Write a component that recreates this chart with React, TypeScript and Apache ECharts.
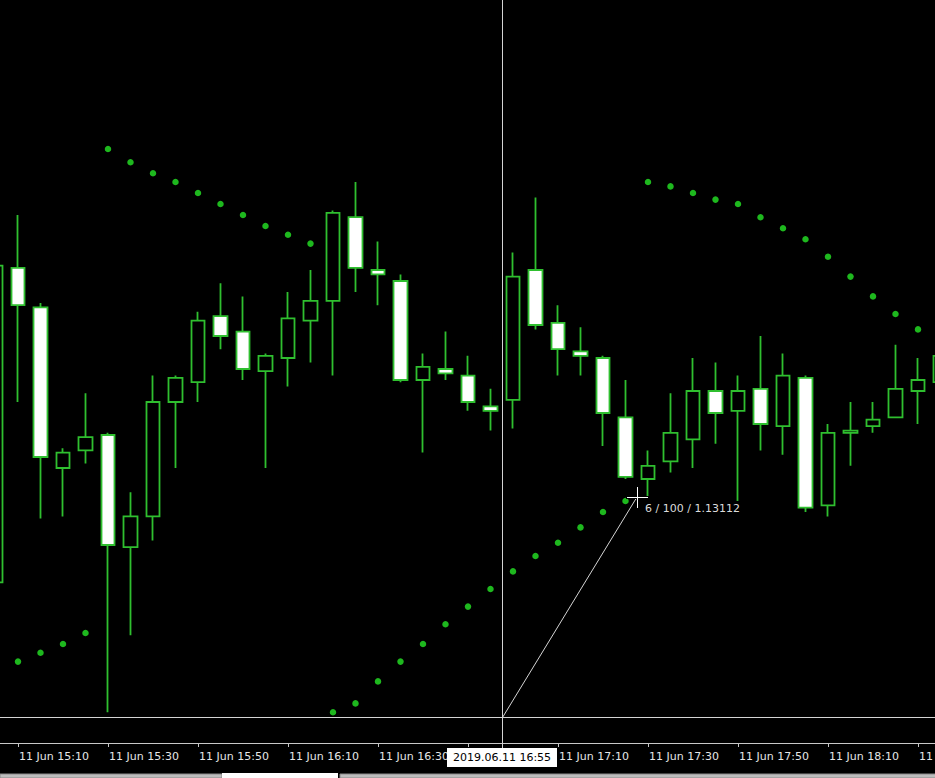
import React, { useEffect, useRef } from "react";
import * as echarts from "echarts";

// 5-minute bars, 11 Jun 2019
const times = [
  "14:50", "14:55", "15:00", "15:05", "15:10", "15:15", "15:20", "15:25", "15:30", "15:35",
  "15:40", "15:45", "15:50", "15:55", "16:00", "16:05", "16:10", "16:15", "16:20", "16:25",
  "16:30", "16:35", "16:40", "16:45", "16:50", "16:55", "17:00", "17:05", "17:10", "17:15",
  "17:20", "17:25", "17:30", "17:35", "17:40", "17:45", "17:50", "17:55", "18:00", "18:05",
  "18:10", "18:15", "18:20", "18:25", "18:30", "18:35",
];

// tick labels shown on the time axis (every 20 minutes)
const tickLabels = [
  "11 Jun 14:50", "11 Jun 15:10", "11 Jun 15:30", "11 Jun 15:50", "11 Jun 16:10", "11 Jun 16:30",
  "11 Jun 16:50", "11 Jun 17:10", "11 Jun 17:30", "11 Jun 17:50", "11 Jun 18:10", "11 Jun 18:30",
];

// first bar with data
const firstBarTime = "15:05";

// [open, close, low, high] from 15:05 to 18:35
const ohlc = [
  [1.13073, 1.13217, 1.1307, 1.1322],
  [1.13216, 1.13199, 1.13155, 1.1324],
  [1.13198, 1.1313, 1.13102, 1.132],
  [1.13125, 1.13132, 1.13103, 1.13134],
  [1.13133, 1.13139, 1.13127, 1.13159],
  [1.1314, 1.1309, 1.13014, 1.13141],
  [1.13089, 1.13103, 1.13049, 1.13114],
  [1.13103, 1.13155, 1.13092, 1.13167],
  [1.13155, 1.13166, 1.13125, 1.13167],
  [1.13164, 1.13192, 1.13155, 1.13196],
  [1.13194, 1.13185, 1.13179, 1.13209],
  [1.13187, 1.1317, 1.13165, 1.13203],
  [1.13169, 1.13176, 1.13125, 1.13177],
  [1.13175, 1.13193, 1.13162, 1.13205],
  [1.13192, 1.13201, 1.13173, 1.13215],
  [1.13201, 1.13241, 1.13167, 1.13242],
  [1.13239, 1.13216, 1.13205, 1.13255],
  [1.13215, 1.13213, 1.13199, 1.13228],
  [1.1321, 1.13165, 1.13164, 1.13213],
  [1.13165, 1.13171, 1.13132, 1.13177],
  [1.1317, 1.13168, 1.13165, 1.13187],
  [1.13167, 1.13155, 1.13151, 1.13176],
  [1.13153, 1.13151, 1.13142, 1.13161],
  [1.13156, 1.13212, 1.13143, 1.13223],
  [1.13215, 1.1319, 1.13188, 1.13248],
  [1.13191, 1.13179, 1.13167, 1.13199],
  [1.13178, 1.13176, 1.13167, 1.13189],
  [1.13175, 1.1315, 1.13135, 1.13176],
  [1.13148, 1.13121, 1.1312, 1.13165],
  [1.1312, 1.13126, 1.13112, 1.13133],
  [1.13128, 1.13141, 1.13123, 1.13159],
  [1.13138, 1.1316, 1.13125, 1.13175],
  [1.1316, 1.1315, 1.13136, 1.13173],
  [1.13151, 1.1316, 1.1311, 1.13167],
  [1.13161, 1.13145, 1.13133, 1.13185],
  [1.13144, 1.13167, 1.13131, 1.13177],
  [1.13166, 1.13107, 1.13105, 1.13167],
  [1.13108, 1.13141, 1.13103, 1.13145],
  [1.13141, 1.13142, 1.13126, 1.13155],
  [1.13144, 1.13147, 1.13141, 1.13155],
  [1.13148, 1.13161, 1.13148, 1.13181],
  [1.1316, 1.13165, 1.13145, 1.13175],
  [1.13164, 1.13176, 1.1316, 1.13181],
];

// Parabolic SAR from 15:05 to 18:35
const sar = [
  1.13033, 1.13037, 1.13041, 1.13045, 1.1305,
  1.1327, 1.13264, 1.13259, 1.13255, 1.1325, 1.13245, 1.1324, 1.13235, 1.13231, 1.13227,
  1.13014, 1.13018, 1.13028, 1.13037, 1.13045, 1.13054, 1.13062, 1.1307, 1.13078, 1.13085,
  1.13091, 1.13098, 1.13105, 1.1311,
  1.13255, 1.13253, 1.1325, 1.13247, 1.13245, 1.13239, 1.13234, 1.13229, 1.13221, 1.13212,
  1.13203, 1.13195, 1.13188, null,
];

const priceMin = 1.13;
const priceMax = 1.1333773;

const cursorText = "6 / 100 / 1.13112";
const crosshairDate = "2019.06.11 16:55";

const FONT = '"DejaVu Sans", Tahoma, sans-serif';

export default function App() {
  const ref = useRef<HTMLDivElement>(null);

  useEffect(() => {
    document.body.style.margin = "0";
    document.body.style.background = "#000";
    const el = ref.current;
    if (!el) return;
    const chart = echarts.init(el, undefined, { renderer: "svg" });

    const pad = times.indexOf(firstBarTime);
    const candleData: any[] = [];
    const sarData: any[] = [];
    for (let k = 0; k < pad; k++) {
      candleData.push(["-", "-", "-", "-"]);
      sarData.push("-");
    }
    ohlc.forEach((d) => candleData.push(d));
    sar.forEach((v) => sarData.push(v == null ? "-" : v));

    const labelSet = new Set(tickLabels.map((t) => t.slice(7)));
    const showAt = (_i: number, v: string) => labelSet.has(v);

    const wickGreen = "#2fbf2f";
    const grey = "#d4d4d4";

    chart.setOption({
      animation: false,
      backgroundColor: "#000000",
      grid: {
        left: -83.25,
        right: -16.75,
        top: 0,
        bottom: 35,
        containLabel: false,
        outerBoundsMode: "none",
      },
      xAxis: {
        type: "category",
        data: times,
        boundaryGap: true,
        axisLine: { show: true, lineStyle: { color: "#c8c8c8", width: 1 } },
        axisTick: {
          show: true,
          alignWithLabel: true,
          interval: showAt,
          length: 4,
          lineStyle: { color: "#c8c8c8" },
        },
        axisLabel: {
          show: true,
          interval: showAt,
          formatter: (v: string) => "11 Jun " + v,
          align: "left",
          color: "#e6e6e6",
          fontFamily: FONT,
          fontSize: 11,
          margin: 8,
          padding: [0, 0, 0, 1],
          hideOverlap: false,
        },
        splitLine: { show: false },
      },
      yAxis: {
        type: "value",
        min: priceMin,
        max: priceMax,
        scale: true,
        show: false,
        splitLine: { show: false },
      },
      series: [
        {
          type: "candlestick",
          data: candleData,
          barWidth: 14,
          itemStyle: {
            color: "#000000",
            color0: "#ffffff",
            borderColor: wickGreen,
            borderColor0: wickGreen,
            borderWidth: 1.8,
          },
          emphasis: { disabled: true },
          z: 2,
        },
        {
          type: "scatter",
          data: sarData,
          symbol: "circle",
          symbolSize: 6.5,
          itemStyle: { color: "#26e626" },
          emphasis: { disabled: true },
          z: 3,
        },
      ],
      graphic: [
        { type: "line", z: 100, shape: { x1: 502.5, y1: 0, x2: 502.5, y2: 748 }, style: { stroke: grey, lineWidth: 1 } },
        { type: "line", z: 100, shape: { x1: 0, y1: 717.5, x2: 935, y2: 717.5 }, style: { stroke: grey, lineWidth: 1 } },
        { type: "line", z: 100, shape: { x1: 502.5, y1: 717.5, x2: 637, y2: 497 }, style: { stroke: grey, lineWidth: 1 } },
        { type: "line", z: 101, shape: { x1: 626, y1: 497.5, x2: 649, y2: 497.5 }, style: { stroke: "#000", lineWidth: 3 } },
        { type: "line", z: 101, shape: { x1: 637.5, y1: 486, x2: 637.5, y2: 509 }, style: { stroke: "#000", lineWidth: 3 } },
        { type: "line", z: 102, shape: { x1: 627, y1: 497.5, x2: 648, y2: 497.5 }, style: { stroke: "#ffffff", lineWidth: 1 } },
        { type: "line", z: 102, shape: { x1: 637.5, y1: 487, x2: 637.5, y2: 508 }, style: { stroke: "#ffffff", lineWidth: 1 } },
        {
          type: "text", z: 102, x: 645, y: 508,
          style: { text: cursorText, fill: "#dcdcdc", font: `11px ${FONT}`, verticalAlign: "middle", align: "left" },
        },
        { type: "rect", z: 103, shape: { x: 447, y: 748, width: 110, height: 19 }, style: { fill: "#ffffff" } },
        {
          type: "text", z: 104, x: 502, y: 757.5,
          style: { text: crosshairDate, fill: "#000000", font: `11px ${FONT}`, verticalAlign: "middle", align: "center" },
        },
        { type: "rect", z: 103, shape: { x: 0, y: 774, width: 222, height: 4 }, style: { fill: "#bdbdbd", stroke: "#8a8a8a", lineWidth: 1 } },
        { type: "rect", z: 103, shape: { x: 222, y: 773, width: 116, height: 5 }, style: { fill: "#ffffff" } },
        { type: "rect", z: 103, shape: { x: 340, y: 774, width: 600, height: 4 }, style: { fill: "#bdbdbd", stroke: "#8a8a8a", lineWidth: 1 } },
      ],
    });

    return () => chart.dispose();
  }, []);

  return (
    <div
      ref={ref}
      style={{ position: "fixed", left: 0, top: 0, width: 935, height: 778, background: "#000" }}
    />
  );
}
